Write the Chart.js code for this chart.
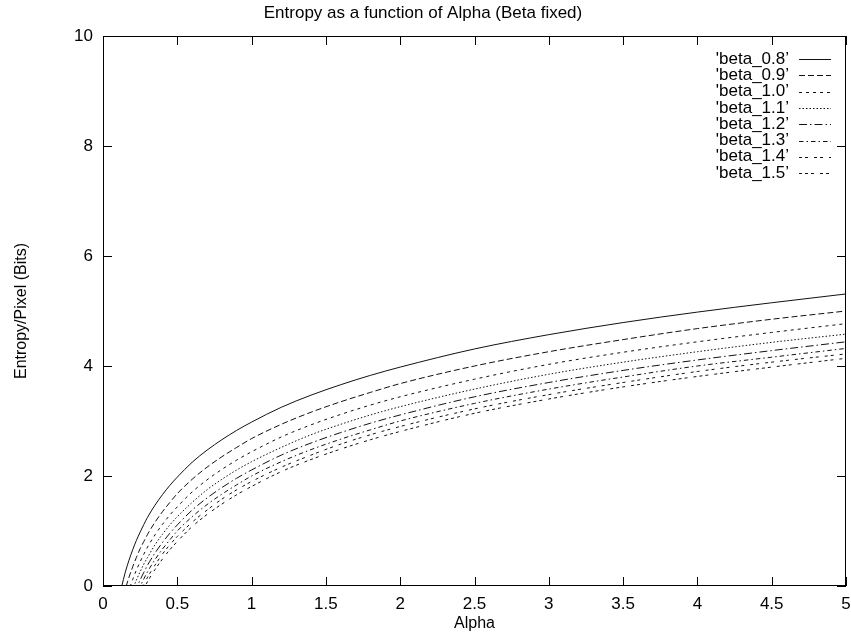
<!DOCTYPE html>
<html>
<head>
<meta charset="utf-8">
<title>Entropy as a function of Alpha (Beta fixed)</title>
<script src="https://cdn.jsdelivr.net/npm/chart.js@4.4.1/dist/chart.umd.min.js"></script>
<style>
    html, body { margin: 0; padding: 0; background: #fff; }
    canvas { display: block; }
</style>
</head>
<body>
<canvas id="entropy-chart" width="851" height="633"></canvas>
<script>
const ALPHA = [0.1, 0.125, 0.15, 0.175, 0.2, 0.225, 0.25, 0.275, 0.3, 0.35, 0.4, 0.45, 0.5,
    0.6, 0.7, 0.8, 0.9, 1.0, 1.2, 1.4, 1.6, 1.8, 2.0, 2.5, 3.0, 3.5, 4.0, 4.5, 5.0];

const SERIES_LABELS = ["'beta_0.8\u2019", "'beta_0.9\u2019", "'beta_1.0\u2019", "'beta_1.1\u2019",
    "'beta_1.2\u2019", "'beta_1.3\u2019", "'beta_1.4\u2019", "'beta_1.5\u2019"];

// Entropy/pixel (bits), one list per beta
const BETA_08 = [-0.34, -0.02, 0.25, 0.47, 0.66, 0.83, 0.98, 1.12, 1.25, 1.47, 1.66, 1.83, 1.98,
    2.25, 2.47, 2.66, 2.83, 2.98, 3.25, 3.47, 3.66, 3.83, 3.98, 4.31, 4.57, 4.79, 4.98, 5.15, 5.31];
const BETA_09 = [-0.65, -0.32, -0.06, 0.16, 0.35, 0.52, 0.68, 0.81, 0.94, 1.16, 1.35, 1.52, 1.68,
    1.94, 2.16, 2.35, 2.52, 2.68, 2.94, 3.16, 3.35, 3.52, 3.68, 4.00, 4.26, 4.48, 4.68, 4.85, 5.00];
const BETA_10 = [-0.88, -0.56, -0.29, -0.07, 0.12, 0.29, 0.44, 0.58, 0.71, 0.93, 1.12, 1.29, 1.44,
    1.71, 1.93, 2.12, 2.29, 2.44, 2.71, 2.93, 3.12, 3.29, 3.44, 3.76, 4.03, 4.25, 4.44, 4.61, 4.77];
const BETA_11 = [-1.06, -0.74, -0.48, -0.25, -0.06, 0.11, 0.26, 0.40, 0.52, 0.75, 0.94, 1.11, 1.26,
    1.52, 1.75, 1.94, 2.11, 2.26, 2.52, 2.75, 2.94, 3.11, 3.26, 3.58, 3.85, 4.07, 4.26, 4.43, 4.58];
const BETA_12 = [-1.21, -0.89, -0.62, -0.40, -0.21, -0.04, 0.11, 0.25, 0.38, 0.60, 0.79, 0.96, 1.11,
    1.38, 1.60, 1.79, 1.96, 2.11, 2.38, 2.60, 2.79, 2.96, 3.11, 3.44, 3.70, 3.92, 4.11, 4.28, 4.44];
const BETA_13 = [-1.33, -1.01, -0.74, -0.52, -0.33, -0.16, -0.01, 0.13, 0.26, 0.48, 0.67, 0.84, 1.00,
    1.26, 1.48, 1.67, 1.84, 2.00, 2.26, 2.48, 2.67, 2.84, 3.00, 3.32, 3.58, 3.80, 4.00, 4.16, 4.32];
const BETA_14 = [-1.42, -1.10, -0.84, -0.62, -0.42, -0.26, -0.10, 0.03, 0.16, 0.38, 0.58, 0.75, 0.90,
    1.16, 1.38, 1.58, 1.75, 1.90, 2.16, 2.38, 2.58, 2.75, 2.90, 3.22, 3.48, 3.70, 3.90, 4.07, 4.22];
const BETA_15 = [-1.51, -1.19, -0.92, -0.70, -0.51, -0.34, -0.19, -0.05, 0.08, 0.30, 0.49, 0.66, 0.81,
    1.08, 1.30, 1.49, 1.66, 1.81, 2.08, 2.30, 2.49, 2.66, 2.81, 3.14, 3.40, 3.62, 3.81, 3.98, 4.14];

const X_TICKS = [0, 0.5, 1, 1.5, 2, 2.5, 3, 3.5, 4, 4.5, 5];
const Y_TICKS = [0, 2, 4, 6, 8, 10];

const FONT = "'Liberation Sans', Arial, Helvetica, sans-serif";
const INK = "#111";

// gnuplot-ish line types
const DASHES = [[], [6, 3], [3, 4], [1.5, 2], [8, 3, 1.5, 3], [4.5, 3, 1.5, 3], [3, 3, 3, 6], [3, 3, 3, 3, 3, 6]];

const allValues = [BETA_08, BETA_09, BETA_10, BETA_11, BETA_12, BETA_13, BETA_14, BETA_15];

const datasets = allValues.map((values, i) => ({
    label: SERIES_LABELS[i],
    data: ALPHA.map((a, j) => ({x: a, y: values[j]})),
    borderColor: INK,
    borderWidth: 1,
    borderDash: DASHES[i],
    pointRadius: 0,
    fill: false,
    cubicInterpolationMode: "monotone"
}));

// box round the plot + inward ticks on all four sides
const framePlugin = {
    id: "frame",
    afterDraw(chart) {
        const {ctx, chartArea: area} = chart;
        const xs = chart.scales.x;
        const ys = chart.scales.y;
        const len = 9;
        ctx.save();
        ctx.strokeStyle = "#000";
        ctx.lineWidth = 1;
        ctx.setLineDash([]);
        ctx.strokeRect(area.left + 0.5, area.top + 0.5, area.right - area.left - 1, area.bottom - area.top - 1);
        ctx.beginPath();
        xs.ticks.forEach(t => {
            const px = Math.round(xs.getPixelForValue(t.value)) + 0.5;
            ctx.moveTo(px, area.bottom);
            ctx.lineTo(px, area.bottom - len);
            ctx.moveTo(px, area.top);
            ctx.lineTo(px, area.top + len);
        });
        ys.ticks.forEach(t => {
            const py = Math.round(ys.getPixelForValue(t.value)) + 0.5;
            ctx.moveTo(area.left, py);
            ctx.lineTo(area.left + len, py);
            ctx.moveTo(area.right, py);
            ctx.lineTo(area.right - len, py);
        });
        ctx.stroke();
        ctx.restore();
    }
};

// key in the upper right: label first, then line sample
const keyPlugin = {
    id: "key",
    afterDraw(chart) {
        const ctx = chart.ctx;
        ctx.save();
        ctx.font = "17px " + FONT;
        ctx.fillStyle = "#000";
        ctx.textAlign = "right";
        ctx.textBaseline = "middle";
        chart.data.datasets.forEach((ds, i) => {
            const y = 59 + i * 16.3;
            ctx.fillText(ds.label, 789, y);
            ctx.strokeStyle = ds.borderColor;
            ctx.lineWidth = 1;
            ctx.setLineDash(ds.borderDash);
            ctx.beginPath();
            ctx.moveTo(799, Math.round(y) + 0.5);
            ctx.lineTo(831, Math.round(y) + 0.5);
            ctx.stroke();
        });
        ctx.restore();
    }
};

const canvas = document.querySelector("#entropy-chart");

new Chart(canvas, {
    type: "line",
    data: {datasets: datasets},
    options: {
        responsive: false,
        devicePixelRatio: 1,
        animation: false,
        layout: {padding: {left: 0, right: 5, top: 0, bottom: 0}},
        plugins: {
            legend: {display: false},
            tooltip: {enabled: false},
            title: {
                display: true,
                text: "Entropy as a function of Alpha (Beta fixed)",
                color: "#000",
                font: {family: FONT, size: 17, weight: "normal"},
                padding: {top: 3, bottom: 12.6}
            }
        },
        scales: {
            x: {
                type: "linear",
                min: 0,
                max: 5,
                grid: {display: false, drawTicks: false},
                border: {display: false},
                afterFit: scale => {
                    scale.height = 47;
                    scale.paddingLeft = 0;
                    scale.paddingRight = 0;
                },
                afterBuildTicks: scale => { scale.ticks = X_TICKS.map(v => ({value: v})); },
                ticks: {
                    color: "#000",
                    font: {family: FONT, size: 17},
                    padding: 8,
                    maxRotation: 0,
                    autoSkip: false,
                    callback: v => String(v)
                },
                title: {
                    display: true,
                    text: "Alpha",
                    color: "#000",
                    font: {family: FONT, size: 16},
                    padding: {top: 0, bottom: 0}
                }
            },
            y: {
                type: "linear",
                min: 0,
                max: 10,
                grid: {display: false, drawTicks: false},
                border: {display: false},
                afterFit: scale => {
                    scale.width = 103;
                    scale.paddingTop = 0;
                    scale.paddingBottom = 0;
                },
                afterBuildTicks: scale => { scale.ticks = Y_TICKS.map(v => ({value: v})); },
                ticks: {color: "#000", font: {family: FONT, size: 17}, padding: 10, callback: v => String(v)},
                title: {
                    display: true,
                    text: "Entropy/Pixel (Bits)",
                    color: "#000",
                    font: {family: FONT, size: 16},
                    padding: {top: 12, bottom: 0}
                }
            }
        }
    },
    plugins: [framePlugin, keyPlugin]
});
</script>
</body>
</html>
